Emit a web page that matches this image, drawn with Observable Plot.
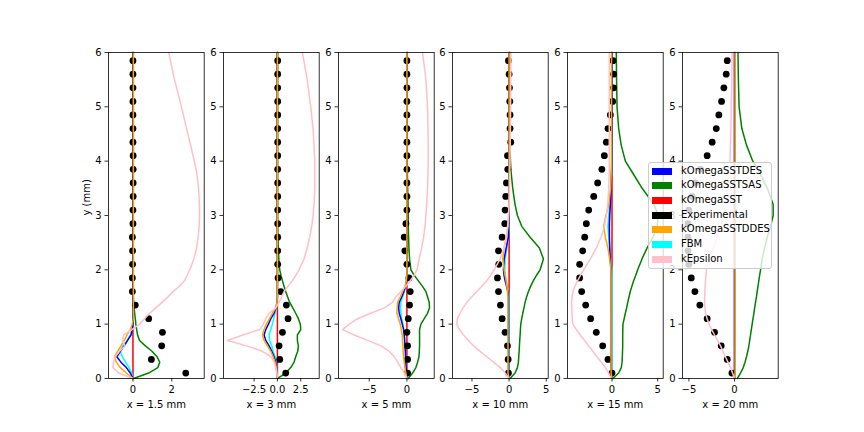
<!DOCTYPE html>
<html><head><meta charset="utf-8">
<script src="https://cdn.jsdelivr.net/npm/d3@7"></script>
<script src="https://cdn.jsdelivr.net/npm/@observablehq/plot@0.6"></script>
<style>
body{margin:0;background:#fff;}
#chart{position:relative;width:864px;height:432px;font-family:"DejaVu Sans",sans-serif;overflow:hidden;}
#legend{position:absolute;left:648px;top:161.5px;width:124px;height:107px;background:rgba(255,255,255,0.8);border:1px solid #cccccc;border-radius:3px;box-sizing:border-box;font-size:10px;color:#000;}
.lrow{position:absolute;left:0;height:14px;}
.lpatch{position:absolute;left:3px;width:20px;height:7px;}
.ltext{position:absolute;left:32px;white-space:nowrap;line-height:10px;}
</style></head><body><div id="chart"><div id="legend"></div></div>
<script>
// ---- data ----
const seriesNames = ["kOmegaSSTDES","kOmegaSSTSAS","kOmegaSST","Experimental","kOmegaSSTDDES","FBM","kEpsilon"];
const seriesColors = ["blue","green","red","black","orange","cyan","pink"];
const panelLabels = ["x = 1.5 mm","x = 3 mm","x = 5 mm","x = 10 mm","x = 15 mm","x = 20 mm"];
const yTicks = [0,1,2,3,4,5,6];
const yGrid = [0,0.1,0.2,0.3,0.4,0.5,0.6,0.7,0.8,0.9,1.0,1.1,1.2,1.3,1.4,1.5,1.6,1.7,1.8,1.9,2.0,2.2,2.4,2.6,2.8,3.0,3.2,3.5,3.8,4.0,4.3,4.6,5.0,5.5,6.0];
const yExp = [0.1,0.35,0.6,0.85,1.1,1.35,1.6,1.85,2.1,2.35,2.6,2.85,3.1,3.35,3.6,3.85,4.1,4.35,4.6,4.85,5.1,5.35,5.6,5.85];

// x = 1.5 mm
const des1 = [0,-0.14,-0.34,-0.62,-0.83,-0.65,-0.45,-0.28,-0.1,-0.03,0,0,0,0,0,0,0,0,0,0,0,0,0,0,0,0,0,0,0,0,0,0,0,0,0];
const sas1 = [0.03,0.81,1.28,1.38,1.24,0.98,0.64,0.34,0.24,0.19,0.15,0.12,0.09,0.06,0.04,0.02,0.02,0.02,0.02,0.02,0.02,0.02,0.02,0.02,0.02,0.02,0.02,0.02,0.02,0.02,0.02,0.02,0.02,0.02,0.02];
const sst1 = [0,0,0,0,0,0,0,0,0,0,0,0,0,0,0,0,0,0,0,0,0,0,0,0,0,0,0,0,0,0,0,0,0,0,0];
const ddes1 = [0,-0.34,-0.65,-0.86,-0.95,-0.79,-0.62,-0.45,-0.3,-0.14,-0.04,0.02,0.02,0.02,0.02,0.02,0.02,0.02,0.02,0.02,0.02,0.02,0.02,0.02,0.02,0.02,0.02,0.02,0.02,0.02,0.02,0.02,0.02,0.02,0.02];
const fbm1 = [0,-0.07,-0.2,-0.38,-0.55,-0.65,-0.52,-0.28,-0.14,-0.04,0,0,0,0,0,0,0,0,0,0,0,0,0,0,0,0,0,0,0,0,0,0,0,0,0];
const keps1 = [0,-0.74,-1.03,-1.0,-0.91,-0.69,-0.4,-0.55,-0.48,-0.05,0.34,0.6,0.86,1.18,1.5,1.8,2.07,2.4,2.66,2.8,2.93,3.14,3.28,3.36,3.41,3.43,3.43,3.38,3.28,3.16,2.97,2.76,2.5,2.14,1.84];
const exp1 = [2.72,0.95,1.48,1.52,0.81,0.12,-0.03,-0.03,-0.02,-0.02,-0.03,0,0,0.01,0.01,0.01,0.01,0,0,0,0,0,0,0];

// x = 3 mm
const des2 = [0,-0.05,-0.1,-0.18,-0.36,-0.6,-0.89,-1.25,-1.43,-1.25,-0.96,-0.71,-0.36,-0.15,-0.05,0,0,0,0,0,0,0,0,0,0,0,0,0,0,0,0,0,0,0,0];
const sas2 = [0.03,0.89,1.43,1.79,1.96,2.18,2.25,2.14,2.14,2.5,2.46,2.25,1.96,1.65,1.32,1.1,0.89,0.7,0.54,0.38,0.25,0.15,0.1,0.05,0.02,0,0,0,0,0,0,0,0,0,0];
const sst2 = [0,0,0,0,0,0,0,0,0,0,0,0,0,0,0,0,0,0,0,0,0,0,0,0,0,0,0,0,0,0,0,0,0,0,0];
const ddes2 = [0,-0.05,-0.11,-0.25,-0.46,-0.71,-1.07,-1.43,-1.6,-1.43,-1.18,-0.85,-0.54,-0.18,-0.05,0,0,0,0,0,0,0,0,0,0,0,0,0,0,0,0,0,0,0,0];
const fbm2 = [0,-0.03,-0.08,-0.11,-0.25,-0.46,-0.6,-0.82,-0.89,-0.71,-0.54,-0.4,-0.25,-0.1,0,0,0,0,0,0,0,0,0,0,0,0,0,0,0,0,0,0,0,0,0];
const keps2 = [0,-0.07,-0.18,-0.36,-0.7,-1.6,-3.3,-5.36,-3.7,-1.9,-1.5,-1.25,-0.89,-0.18,0.18,0.45,0.71,1.15,1.6,1.98,2.32,2.86,3.2,3.46,3.68,3.82,3.93,4.0,4.0,4.0,3.93,3.82,3.57,3.2,2.68];
const exp2 = [0.89,0.25,0.18,0.54,1.14,0.96,0.36,0.07,0.03,0.03,0.03,0.03,0.03,0.03,0.03,0.03,0.03,0.03,0.03,0.03,0.03,0.03,0.03,0.03];

// x = 5 mm
const des3 = [0,-0.05,-0.1,-0.15,-0.18,-0.2,-0.27,-0.3,-0.35,-0.44,-0.62,-0.8,-1.02,-1.1,-1.02,-0.7,-0.4,-0.18,-0.05,0,0,0,0,0,0,0,0,0,0,0,0,0,0,0,0];
const sas3 = [0.18,0.75,1.19,1.42,1.6,1.65,1.68,1.68,1.68,1.68,1.86,2.3,2.74,3.0,2.96,2.75,2.52,2.05,1.5,0.97,0.53,0.35,0.27,0.22,0.18,0.18,0.15,0.1,0.06,0.03,0,0,0,0,0];
const sst3 = [0,0,0,0,0,0,0,0,0,0,0,0,0,0,0,0,0,0,0,0,0,0,0,0,0,0,0,0,0,0,0,0,0,0,0];
const ddes3 = [0,-0.15,-0.27,-0.35,-0.44,-0.5,-0.53,-0.58,-0.62,-0.75,-0.88,-1.1,-1.33,-1.3,-1.24,-0.9,-0.58,-0.25,-0.08,0,0,0,0,0,0,0,0,0,0,0,0,0,0,0,0];
const fbm3 = [0,-0.04,-0.08,-0.12,-0.16,-0.2,-0.25,-0.3,-0.35,-0.4,-0.53,-0.7,-0.8,-0.88,-0.8,-0.58,-0.35,-0.15,-0.05,0,0,0,0,0,0,0,0,0,0,0,0,0,0,0,0];
const keps3 = [0,-0.35,-0.8,-1.24,-1.68,-2.35,-3.45,-5.22,-6.99,-8.54,-7.65,-6.55,-4.78,-3.0,-1.9,-1.46,-0.8,-0.13,0.44,0.97,1.33,1.64,1.95,2.21,2.4,2.52,2.62,2.74,2.8,2.83,2.83,2.8,2.74,2.52,2.08];
const exp3 = [0.09,0.09,0.09,0,0.18,0.35,0.44,0.27,0,-0.27,-0.35,-0.13,0,0,0,0,0,0,0,0,0,0,0,0];

// x = 10 mm
const des4 = [0,-0.08,-0.08,-0.08,-0.08,-0.08,-0.08,-0.08,-0.08,-0.08,-0.08,-0.08,-0.08,-0.08,-0.08,-0.08,-0.18,-0.35,-0.54,-0.68,-0.76,-0.67,-0.4,-0.1,-0.05,0,0,0,0,0,0,0,0,0,0];
const sas4 = [0.13,0.8,1.12,1.25,1.3,1.35,1.39,1.43,1.48,1.52,1.57,1.7,1.84,2.0,2.15,2.35,2.6,2.9,3.27,3.7,4.17,4.62,4.08,2.83,1.7,1.12,0.8,0.49,0.27,0.18,0.12,0.08,0.06,0.06,0.06];
const sst4 = [0,0,0,0,0,0,0,0,0,0,0,0,0,0,0,0,0,0,0,0,0,0,0,0,0,0,0,0,0,0,0,0,0,0,0];
const ddes4 = [0,-0.15,-0.15,-0.15,-0.15,-0.15,-0.15,-0.15,-0.15,-0.15,-0.15,-0.15,-0.15,-0.15,-0.15,-0.15,-0.22,-0.3,-0.4,-0.55,-0.67,-0.85,-0.67,-0.4,-0.13,-0.05,0,0,0,0,0,0,0,0,0];
const fbm4 = [0,0,0,0,0,0,0,0,0,0,0,0,0,0,0,0,-0.1,-0.25,-0.4,-0.5,-0.58,-0.54,-0.3,-0.1,0,0,0,0,0,0,0,0,0,0,0];
const keps4 = [0,-0.54,-1.2,-2.1,-3.0,-3.9,-4.8,-5.47,-6.14,-6.68,-7.04,-6.95,-6.59,-6.2,-5.7,-5.05,-4.35,-3.65,-3.0,-2.5,-2.02,-1.21,-0.67,-0.4,-0.2,-0.1,0,0.05,0.1,0.12,0.15,0.18,0.2,0.22,0.25];
const exp4 = [-0.09,-0.13,-0.22,-0.54,-0.94,-1.17,-1.43,-1.57,-1.39,-1.43,-0.94,-0.58,-0.54,-0.45,-0.36,-0.18,-0.22,0.22,0.13,0.13,0.09,0.05,0,-0.09];

// x = 15 mm
const des5 = [0,-0.1,-0.1,-0.1,-0.1,-0.1,-0.1,-0.1,-0.1,-0.1,-0.1,-0.1,-0.1,-0.1,-0.1,-0.1,-0.1,-0.1,-0.1,-0.1,-0.1,-0.2,-0.25,-0.28,-0.29,-0.25,-0.18,-0.1,-0.05,0,0,0,0,0,0];
const sas5 = [0.1,0.73,1.02,1.1,1.13,1.15,1.17,1.17,1.17,1.18,1.2,1.33,1.46,1.6,1.72,1.86,2.0,2.18,2.37,2.6,2.81,3.28,3.83,4.5,4.95,5.05,4.6,3.3,2.2,1.46,1.0,0.73,0.55,0.5,0.47];
const sst5 = [0,0,0,0,0,0,0,0,0,0,0,0,0,0,0,0,0,0,0,0,0,0,0,0,0,0,0,0,0,0,0,0,0,0,0];
const ddes5 = [0,-0.1,-0.1,-0.1,-0.1,-0.1,-0.1,-0.1,-0.1,-0.1,-0.1,-0.1,-0.1,-0.1,-0.1,-0.1,-0.1,-0.1,-0.1,-0.1,-0.12,-0.26,-0.44,-0.73,-0.91,-0.66,-0.36,-0.15,-0.08,-0.05,-0.05,-0.05,-0.05,-0.05,-0.05];
const fbm5 = [0,0,0,0,0,0,0,0,0,0,0,0,0,0,0,0,0,0,0,0,0,-0.18,-0.26,-0.36,-0.44,-0.36,-0.25,-0.12,-0.05,0,0,0,0,0,0];
const keps5 = [-0.1,-0.36,-0.73,-1.18,-1.64,-2.1,-2.55,-3.0,-3.47,-3.9,-4.27,-4.35,-4.38,-4.4,-4.42,-4.38,-4.27,-4.05,-3.76,-3.45,-3.1,-2.37,-1.72,-1.2,-0.84,-0.62,-0.47,-0.36,-0.3,-0.3,-0.3,-0.3,-0.3,-0.3,-0.3];
const exp5 = [0,-0.44,-1.02,-1.72,-2.34,-2.88,-3.32,-3.54,-3.54,-3.21,-2.99,-2.81,-2.55,-2.0,-1.57,-1.11,-0.84,-0.62,-0.44,-0.18,0.07,0.18,0.18,0.11];

// x = 20 mm
const des6 = [0,0,0,0,0,0,0,0,0,0,0,0,0,0,0,0,0,0,0,0,0,0,0,0,0,0,0,0,0,0,0,0,0,0,0];
const sas6 = [0.3,0.66,0.95,1.15,1.31,1.45,1.57,1.66,1.75,1.84,1.93,2.02,2.12,2.2,2.3,2.4,2.48,2.57,2.66,2.75,2.85,3.03,3.28,3.58,3.94,4.23,4.23,3.6,2.7,2.0,1.3,0.8,0.5,0.42,0.38];
const sst6 = [0,0,0,0,0,0,0,0,0,0,0,0,0,0,0,0,0,0,0,0,0,0,0,0,0,0,0,0,0,0,0,0,0,0,0];
const ddes6 = [0,0.06,0.06,0.06,0.06,0.06,0.06,0.06,0.06,0.06,0.06,0.06,0.06,0.06,0.06,0.06,0.06,0.06,0.06,0.06,0.06,0.06,0.06,0.06,0.06,0.06,0.06,0.06,0.06,0.06,0.06,0.06,0.06,0.06,0.06];
const fbm6 = [0,0.06,0.06,0.06,0.06,0.06,0.06,0.06,0.06,0.06,0.06,0.06,0.06,0.06,0.06,0.06,0.06,0.06,0.06,0.06,0.06,0.06,0.06,0.06,0.06,0.06,0.06,0.06,0.06,0.06,0.06,0.06,0.06,0.06,0.06];
const keps6 = [0,-0.22,-0.44,-0.72,-1.0,-1.27,-1.53,-1.86,-2.19,-2.5,-2.8,-3.0,-3.18,-3.24,-3.28,-3.27,-3.25,-3.22,-3.18,-3.12,-3.07,-2.8,-2.3,-1.9,-1.5,-1.2,-0.95,-0.75,-0.6,-0.5,-0.45,-0.4,-0.36,-0.3,-0.26];
const exp6 = [-0.29,-0.8,-1.46,-2.19,-3.0,-3.8,-4.34,-4.74,-5.0,-5.1,-5.1,-5.1,-5.0,-4.64,-4.27,-3.72,-3.0,-2.45,-2.0,-1.72,-1.42,-1.17,-0.91,-0.8];

const xDomains = [[-1.26,3.67],[-5.78,4.48],[-9.08,3.62],[-7.62,5.26],[-4.87,5.6],[-5.7,4.78]];
const xTicks = [[0,2],[-2.5,0,2.5],[-5,0],[-5,0,5],[0,5],[-5,0]];

const panelSeries = [
  {des:des1,sas:sas1,sst:sst1,ddes:ddes1,fbm:fbm1,keps:keps1,exp:exp1},
  {des:des2,sas:sas2,sst:sst2,ddes:ddes2,fbm:fbm2,keps:keps2,exp:exp2},
  {des:des3,sas:sas3,sst:sst3,ddes:ddes3,fbm:fbm3,keps:keps3,exp:exp3},
  {des:des4,sas:sas4,sst:sst4,ddes:ddes4,fbm:fbm4,keps:keps4,exp:exp4},
  {des:des5,sas:sas5,sst:sst5,ddes:ddes5,fbm:fbm5,keps:keps5,exp:exp5},
  {des:des6,sas:sas6,sst:sst6,ddes:ddes6,fbm:fbm6,keps:keps6,exp:exp6}
];

// ---- drawing ----
const chart = document.getElementById("chart");
const minus = s => s.replace("-", "\u2212");
const fmts = [d=>String(d), d=>minus(d.toFixed(1)), d=>minus(String(d)), d=>minus(String(d)), d=>minus(String(d)), d=>minus(String(d))];

const ML = 40, MR = 6, INNER = 95.7;
const W = ML + INNER + MR;

function lineMark(arr, color) {
  return Plot.line(yGrid.map((y,k)=>({x:arr[k], y})), {x:"x", y:"y", stroke:color, strokeWidth:1.5});
}

panelSeries.forEach((s, i) => {
  const left = 108 + 114.8 * i;
  const marks = [
    lineMark(s.sst, seriesColors[2]),
    lineMark(s.fbm, seriesColors[5]),
    lineMark(s.sas, seriesColors[1]),
    lineMark(s.des, seriesColors[0]),
    Plot.dot(yExp.map((y,k)=>({x:s.exp[k], y})), {x:"x", y:"y", r:3.4, fill:seriesColors[3], stroke:"none"}),
    lineMark(s.ddes, seriesColors[4]),
    lineMark(s.keps, seriesColors[6]),
    Plot.frame({stroke:"black", strokeWidth:0.8}),
    Plot.axisX({ticks:xTicks[i], tickFormat:fmts[i], tickSize:3.5, tickPadding:3.5, label:null, strokeWidth:0.8}),
    Plot.axisY({ticks:yTicks, tickFormat:d=>String(d), tickSize:3.5, tickPadding:3.5, label:null, strokeWidth:0.8}),
    Plot.text([panelLabels[i]], {frameAnchor:"bottom", dy:26, text:d=>d, fontSize:10, lineAnchor:"middle", fill:"black"})
  ];
  if (i === 0) {
    marks.push(Plot.text(["y (mm)"], {frameAnchor:"left", dx:-22, rotate:-90, text:d=>d, fontSize:10, lineAnchor:"middle", fill:"black"}));
  }
  const svg = Plot.plot({
    width: W, height: 432,
    marginLeft: ML, marginRight: MR, marginTop: 52, marginBottom: 54,
    x: {domain: xDomains[i]},
    y: {domain: [0, 6]},
    style: {fontFamily: "DejaVu Sans", fontSize: "10px", color: "black", background: "transparent", overflow: "visible"},
    marks
  });
  svg.style.position = "absolute";
  svg.style.left = (left - ML) + "px";
  svg.style.top = "0px";
  chart.insertBefore(svg, document.getElementById("legend"));
});

// legend
const legend = document.getElementById("legend");
seriesNames.forEach((name, k) => {
  const row = document.createElement("div");
  row.className = "lrow";
  const cy = 8.5 + 14.7 * k;
  const patch = document.createElement("div");
  patch.className = "lpatch";
  patch.style.top = (cy - 3.5) + "px";
  patch.style.background = seriesColors[k];
  const txt = document.createElement("div");
  txt.className = "ltext";
  txt.style.top = (cy - 5.5) + "px";
  txt.textContent = name;
  row.appendChild(patch); row.appendChild(txt);
  legend.appendChild(row);
});
</script></body></html>
